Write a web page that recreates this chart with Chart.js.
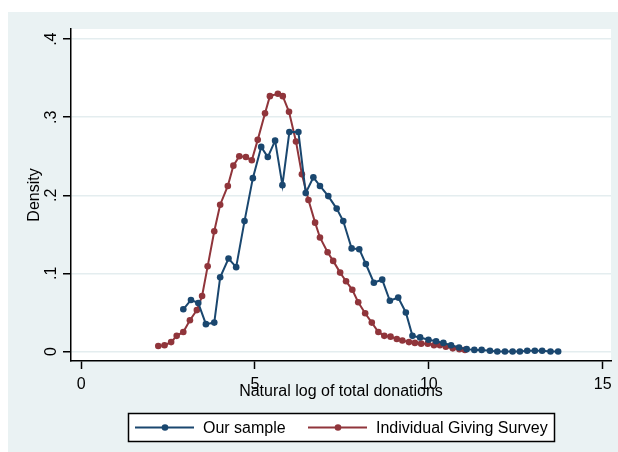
<!DOCTYPE html>
<html>
<head>
<meta charset="utf-8">
<script src="https://cdn.jsdelivr.net/npm/chart.js@4"></script>
<style>
  html, body { margin: 0; padding: 0; background: #fff; }
</style>
</head>
<body>
<canvas id="densityChart" width="618" height="452"></canvas>
<script>
// Kernel density of log donations, two samples
const sampleX = [2.94, 3.16, 3.37, 3.59, 3.83, 4.00, 4.24, 4.46, 4.70, 4.94,
  5.18, 5.37, 5.58, 5.79, 5.99, 6.25, 6.46, 6.68, 6.87, 7.11,
  7.35, 7.54, 7.78, 8.00, 8.19, 8.42, 8.66, 8.88, 9.12, 9.34,
  9.53, 9.75, 9.99, 10.21, 10.42, 10.64, 10.87, 11.09, 11.31, 11.52,
  11.76, 11.97, 12.19, 12.41, 12.62, 12.83, 13.05, 13.26, 13.50, 13.72];
const sampleY = [0.054, 0.066, 0.062, 0.035, 0.037, 0.095, 0.119, 0.108, 0.167, 0.222,
  0.262, 0.249, 0.270, 0.213, 0.281, 0.281, 0.203, 0.223, 0.212, 0.199,
  0.183, 0.167, 0.132, 0.131, 0.112, 0.088, 0.092, 0.065, 0.069, 0.050,
  0.020, 0.018, 0.015, 0.013, 0.011, 0.008, 0.005, 0.003, 0.002, 0.002,
  0.001, 0.000, 0.000, 0.000, 0.000, 0.001, 0.001, 0.001, 0.000, 0.000];

const surveyX = [2.22, 2.40, 2.59, 2.75, 2.94, 3.13, 3.33, 3.48, 3.64, 3.83,
  4.00, 4.22, 4.38, 4.55, 4.74, 4.91, 5.08, 5.29, 5.43, 5.66,
  5.80, 5.98, 6.18, 6.35, 6.54, 6.73, 6.87, 7.09, 7.25, 7.45,
  7.62, 7.80, 7.97, 8.17, 8.36, 8.55, 8.72, 8.90, 9.08, 9.24,
  9.43, 9.60, 9.78, 9.97, 10.15, 10.32, 10.49, 10.69, 10.88, 11.04];
const surveyY = [0.007, 0.008, 0.012, 0.020, 0.025, 0.040, 0.053, 0.071, 0.109, 0.154,
  0.188, 0.212, 0.238, 0.250, 0.249, 0.245, 0.271, 0.305, 0.327, 0.330,
  0.327, 0.307, 0.269, 0.227, 0.194, 0.165, 0.146, 0.127, 0.116, 0.101,
  0.090, 0.079, 0.063, 0.049, 0.037, 0.025, 0.020, 0.019, 0.016, 0.014,
  0.012, 0.011, 0.010, 0.010, 0.008, 0.008, 0.006, 0.004, 0.003, 0.002];

const seriesNames = ["Our sample", "Individual Giving Survey"];
const xTicks = [0, 5, 10, 15];
const yTicks = [0, 0.1, 0.2, 0.3, 0.4];
const yTickLabels = ["0", ".1", ".2", ".3", ".4"];

const navy = "#1a476f";
const maroon = "#90353b";
const bgGray = "#eaf2f3";
const fontFamily = "'Liberation Sans', Arial, sans-serif";

function toPoints(xs, ys) {
  return xs.map((x, i) => ({ x: x, y: ys[i] }));
}

// gray page + white plot region, Stata style
const backdrop = {
  id: "backdrop",
  beforeDraw(chart) {
    const { ctx, chartArea } = chart;
    ctx.save();
    ctx.fillStyle = "#fff";
    ctx.fillRect(0, 0, chart.width, chart.height);
    ctx.fillStyle = bgGray;
    ctx.fillRect(8, 12, chart.width - 8, chart.height - 12);
    ctx.fillStyle = "#fff";
    ctx.fillRect(chartArea.left, chartArea.top,
      chartArea.right - chartArea.left, chartArea.bottom - chartArea.top);
    ctx.restore();
  }
};

// boxed legend under the axis title
const boxLegend = {
  id: "boxLegend",
  afterDraw(chart) {
    const ctx = chart.ctx;
    const starts = [135, 308];
    ctx.save();
    ctx.fillStyle = "#fff";
    ctx.fillRect(128.5, 413.5, 426, 28);
    ctx.strokeStyle = "#000";
    ctx.lineWidth = 1.5;
    ctx.strokeRect(128.5, 413.5, 426, 28);
    chart.data.datasets.forEach((ds, i) => {
      const x0 = starts[i];
      const y = 427.5;
      ctx.strokeStyle = ds.borderColor;
      ctx.lineWidth = 2;
      ctx.beginPath();
      ctx.moveTo(x0, y);
      ctx.lineTo(x0 + 59, y);
      ctx.stroke();
      ctx.fillStyle = ds.borderColor;
      ctx.beginPath();
      ctx.arc(x0 + 30, y, 3.3, 0, Math.PI * 2);
      ctx.fill();
      ctx.fillStyle = "#000";
      ctx.font = "16px " + fontFamily;
      ctx.textBaseline = "middle";
      ctx.textAlign = "left";
      ctx.fillText(ds.label, x0 + 68, y + 1);
    });
    ctx.restore();
  }
};

const ctx = document.getElementById("densityChart");

new Chart(ctx, {
  type: "scatter",
  data: {
    datasets: [
      {
        label: seriesNames[0],
        data: toPoints(sampleX, sampleY),
        showLine: true,
        borderColor: navy,
        backgroundColor: navy,
        borderWidth: 2,
        pointRadius: 3.3,
        pointBorderWidth: 0,
      },
      {
        label: seriesNames[1],
        data: toPoints(surveyX, surveyY),
        showLine: true,
        borderColor: maroon,
        backgroundColor: maroon,
        borderWidth: 2,
        pointRadius: 3.3,
        pointBorderWidth: 0,
      },
    ],
  },
  options: {
    responsive: false,
    animation: false,
    devicePixelRatio: 1,
    layout: { padding: { top: 29, right: 7, left: 0, bottom: 0 } },
    plugins: {
      legend: { display: false },
      tooltip: { enabled: false },
    },
    scales: {
      x: {
        type: "linear",
        min: -0.29,
        max: 15.24,
        afterFit: (scale) => { scale.height = 91; },
        afterBuildTicks: (scale) => { scale.ticks = xTicks.map((v) => ({ value: v })); },
        grid: { drawOnChartArea: false, tickLength: 8, tickColor: "#000", tickWidth: 1.5 },
        border: { color: "#000", width: 1.5 },
        ticks: {
          color: "#000",
          font: { family: fontFamily, size: 16 },
          padding: 6,
          maxRotation: 0,
          minRotation: 0,
        },
        title: {
          display: true,
          text: "Natural log of total donations",
          color: "#000",
          font: { family: fontFamily, size: 16 },
          padding: { top: 0, bottom: 51 },
        },
      },
      y: {
        min: -0.0122,
        max: 0.413,
        afterFit: (scale) => { scale.width = 71; },
        afterBuildTicks: (scale) => { scale.ticks = yTicks.map((v) => ({ value: v })); },
        grid: { color: "#e4edef", lineWidth: 1.5, tickLength: 8, tickColor: "#000", tickWidth: 1.5 },
        border: { color: "#000", width: 1.5 },
        ticks: {
          color: "#000",
          font: { family: fontFamily, size: 16 },
          padding: 5,
          minRotation: 90,
          maxRotation: 90,
          crossAlign: "center",
          callback: (value) => yTickLabels[yTicks.indexOf(value)],
        },
        title: {
          display: true,
          text: "Density",
          color: "#000",
          font: { family: fontFamily, size: 16 },
          padding: { top: 25, bottom: 0 },
        },
      },
    },
  },
  plugins: [backdrop, boxLegend],
});
</script>
</body>
</html>
